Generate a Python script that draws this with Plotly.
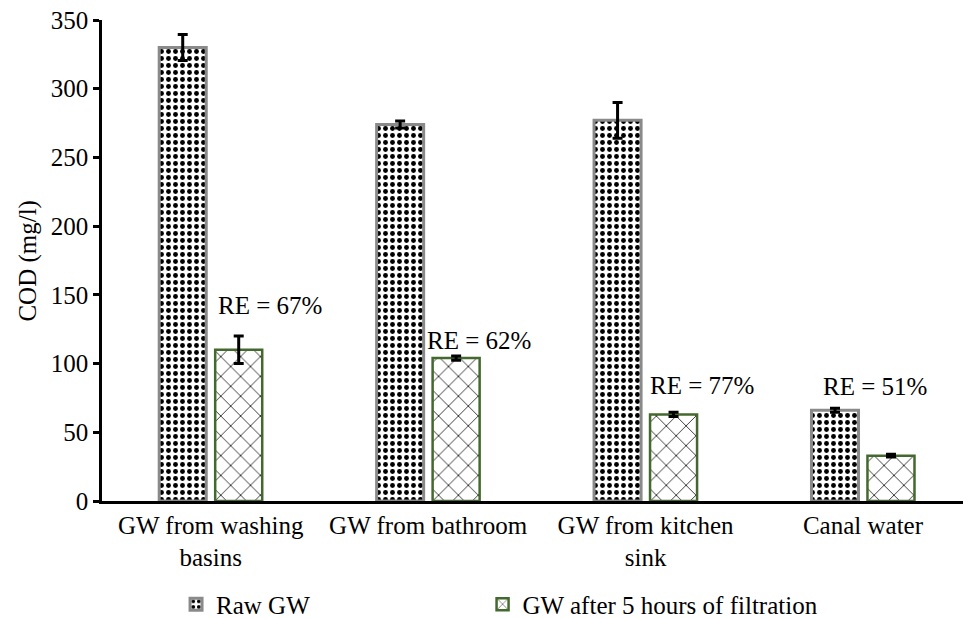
import plotly.graph_objects as go

categories = ["GW from washing<br>basins", "GW from bathroom", "GW from kitchen<br>sink", "Canal water"]
raw_gw = [330, 274, 277, 66]
raw_err = [9.5, 2.5, 13, 1.5]
filtered_gw = [110, 104, 63, 33]
filtered_err = [10, 1.5, 1.5, 1]
re_labels = ["RE = 67%", "RE = 62%", "RE = 77%", "RE = 51%"]
re_x = [0.271, 1.235, 2.26, 3.055]
re_y = [142, 117, 84, 83]

FONT = "Liberation Serif, Times New Roman, Times, serif"
FS = 25

fig = go.Figure()
fig.add_trace(go.Bar(
    name="Raw GW", x=categories, y=raw_gw, legend="legend",
    error_y=dict(type="data", array=raw_err, color="black", thickness=3, width=5),
    marker=dict(color="white", line=dict(color="#8a8a8a", width=3),
                pattern=dict(shape=".", fgcolor="black", bgcolor="white", fgopacity=1,
                             size=7, solidity=0.38)),
))
fig.add_trace(go.Bar(
    name="GW after 5 hours of filtration", x=categories, y=filtered_gw, legend="legend2",
    error_y=dict(type="data", array=filtered_err, color="black", thickness=3, width=5),
    marker=dict(color="white", line=dict(color="#44692e", width=2.5),
                pattern=dict(shape="x", fgcolor="#333333", bgcolor="white", fgopacity=1,
                             size=14, solidity=0.13)),
))

for txt, xv, yv in zip(re_labels, re_x, re_y):
    fig.add_annotation(x=xv, y=yv, xref="x", yref="y", text=txt, showarrow=False,
                       font=dict(family=FONT, size=FS, color="black"),
                       xanchor="center", yanchor="middle")

fig.add_annotation(x=-0.087, y=0.5, xref="paper", yref="paper", text="COD (mg/l)",
                   textangle=-90, showarrow=False, font=dict(family=FONT, size=FS, color="black"),
                   xanchor="center", yanchor="middle")

leg_common = dict(orientation="h", xanchor="left", y=-0.215, yanchor="middle",
                  font=dict(family=FONT, size=FS, color="black"), bgcolor="rgba(0,0,0,0)")
fig.update_layout(
    width=963, height=619,
    margin=dict(l=102, r=0, t=20, b=118, autoexpand=False),
    paper_bgcolor="white", plot_bgcolor="white",
    font=dict(family=FONT, size=FS, color="black"),
    barmode="group", bargap=0.485, bargroupgap=0.16,
    showlegend=True,
    legend=dict(x=0.086, **leg_common),
    legend2=dict(x=0.442, **leg_common),
)
fig.update_xaxes(type="category", range=[-0.5, 3.46], showline=True, linecolor="black", linewidth=2.5,
                 ticks="", showgrid=False, zeroline=False, automargin=False,
                 tickfont=dict(family=FONT, size=FS, color="black"))
fig.update_yaxes(range=[0, 350], tickvals=[0, 50, 100, 150, 200, 250, 300, 350],
                 showline=True, linecolor="black", linewidth=2.5, ticks="outside", ticklen=6,
                 tickwidth=2.5, tickcolor="black", showgrid=False, zeroline=False, automargin=False,
                 tickfont=dict(family=FONT, size=FS, color="black"))

fig.write_html("out.html")
